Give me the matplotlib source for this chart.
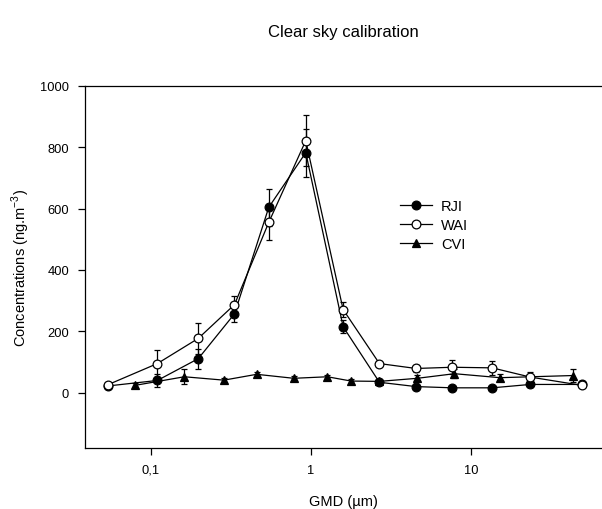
import matplotlib
matplotlib.use("Agg")
import matplotlib.pyplot as plt
from matplotlib.lines import Line2D
from matplotlib.ticker import FixedLocator, FixedFormatter, NullLocator

plt.rcParams['font.family'] = ['Liberation Sans', 'DejaVu Sans']

# GMD (µm) for RJI / WAI stages
gmd_rw = [0.054, 0.110, 0.198, 0.333, 0.545, 0.927, 1.585, 2.67, 4.52, 7.61, 13.5, 23.3, 48.9]
rji = [22, 40, 111, 257, 604, 782, 215, 34, 20, 16, 16, 27, 27]
rji_err = [5, 20, 33, 26, 60, 78, 22, 8, 6, 6, 6, 8, 6]
wai = [26, 95, 177, 287, 555, 821, 271, 95, 79, 83, 81, 51, 24]
wai_err = [5, 43, 51, 27, 56, 83, 24, 8, 10, 22, 22, 18, 6]

# GMD (µm) for CVI stages
gmd_cvi = [0.0798, 0.162, 0.286, 0.458, 0.780, 1.265, 1.78, 2.67, 4.60, 7.84, 15.1, 42.9]
cvi = [24, 52, 41, 60, 47, 52, 38, 37, 47, 62, 49, 56]
cvi_err = [8, 24, 8, 8, 6, 6, 6, 6, 10, 15, 12, 20]

xticks = [0.1, 1, 10]
xticklabels = ["0,1", "1", "10"]
yticks = [0, 200, 400, 600, 800, 1000]

fig = plt.figure(figsize=(6.02, 5.10), dpi=100)
ax = fig.add_axes([85/602, 61/510, 1 - 85/602, (449 - 86.7)/510])

common = dict(color='black', linewidth=0.9, markersize=6.3, markeredgewidth=0.9,
              ecolor='black', elinewidth=0.9, capsize=2.5, capthick=0.9)

ax.errorbar(gmd_cvi, cvi, yerr=cvi_err, marker='^', markerfacecolor='black',
            markeredgecolor='black', zorder=3, **common)
ax.errorbar(gmd_rw, rji, yerr=rji_err, marker='o', markerfacecolor='black',
            markeredgecolor='black', zorder=4, **common)
ax.errorbar(gmd_rw, wai, yerr=wai_err, marker='o', markerfacecolor='white',
            markeredgecolor='black', zorder=5, **common)

ax.set_xscale('log')
ax.set_xlim(0.0389, 65.3)
ax.set_ylim(-180, 1000)

ax.xaxis.set_major_locator(FixedLocator(xticks))
ax.xaxis.set_major_formatter(FixedFormatter(xticklabels))
ax.xaxis.set_minor_locator(NullLocator())
ax.set_yticks(yticks)

ax.tick_params(axis='both', direction='out', length=5, width=0.9, labelsize=9.3, pad=6.5)
ax.spines['right'].set_visible(False)
for s in ['left', 'bottom', 'top']:
    ax.spines[s].set_linewidth(0.9)

ax.set_xlabel('GMD (µm)', fontsize=10.5, labelpad=13)
ax.set_ylabel('Concentrations (ng.m$^{\\mathregular{-3}}$)', fontsize=10.5, labelpad=6)

fig.text(343.5/602, 1 - 33/510, 'Clear sky calibration', ha='center', va='center', fontsize=12)

lk = dict(color='black', linewidth=0.9, markersize=6.3, markeredgewidth=0.9, markeredgecolor='black')
handles = [
    Line2D([], [], marker='o', markerfacecolor='black', **lk),
    Line2D([], [], marker='o', markerfacecolor='white', **lk),
    Line2D([], [], marker='^', markerfacecolor='black', **lk),
]
ax.legend(handles, ['RJI', 'WAI', 'CVI'],
          loc='upper left', bbox_to_anchor=(400/602, 1 - 200.5/510),
          bbox_transform=fig.transFigure, frameon=False, fontsize=10.5,
          handlelength=2.2, handletextpad=0.6, labelspacing=0.34,
          borderaxespad=0, borderpad=0)

fig.savefig('out.png', dpi=100)
